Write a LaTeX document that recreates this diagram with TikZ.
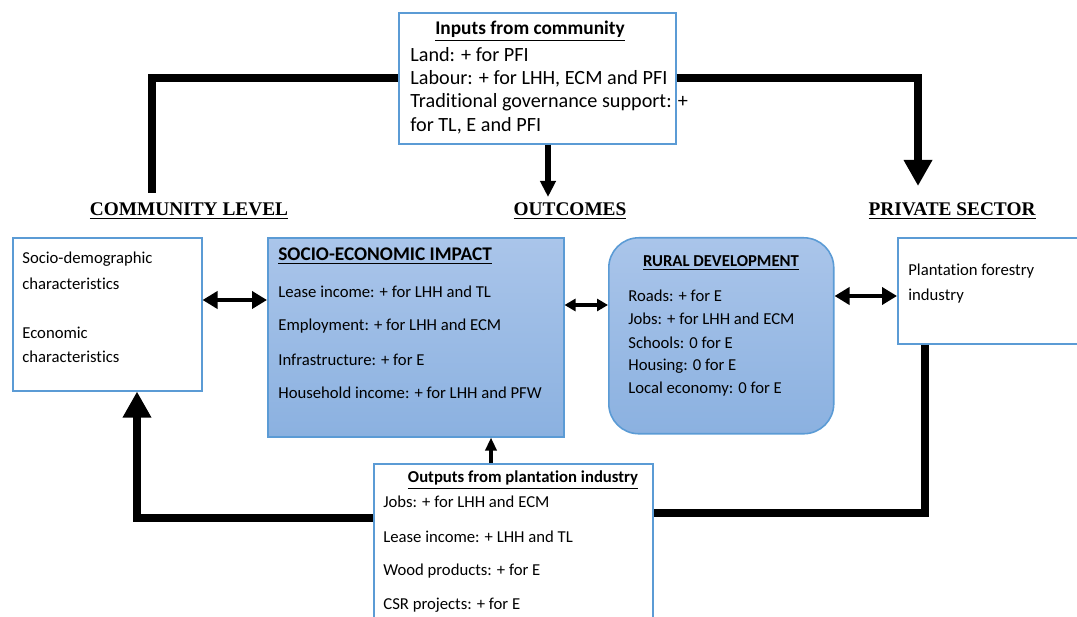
\documentclass[tikz,border=0pt]{standalone}
\usepackage{fontspec}
\setmainfont{Carlito}[RawFeature=-liga]
\newfontfamily\headfont{Liberation Serif}
\usepackage{xcolor}
\usepackage{tikz}
\usetikzlibrary{arrows.meta}

\definecolor{boxblue}{HTML}{5B9BD5}
\definecolor{fillhi}{HTML}{AAC5EA}
\definecolor{filllo}{HTML}{8BB1E0}

\tikzset{
	box/.style = {draw=boxblue, line width=0.9pt, inner sep=0pt, anchor=north west},
	shaded box/.style = {box, top color=fillhi, bottom color=filllo},
	item/.style = {anchor=west, inner sep=0pt, font=\fontsize{9.5}{12}\selectfont},
	big item/.style = {item, font=\fontsize{11.5}{14}\selectfont},
	title/.style = {inner sep=0pt, font=\fontsize{9.5}{12}\selectfont\bfseries},
	big title/.style = {title, font=\fontsize{11}{14}\selectfont\bfseries},
	heading/.style = {inner sep=0pt, font=\fontsize{11}{14}\selectfont\headfont\bfseries},
	conn/.style = {line width=4.5pt},
	bigtip/.style = {-{Triangle[width=0.54cm, length=0.52cm]}},
	dbl/.style = {line width=2.6pt, {Triangle[width=0.34cm, length=0.3cm]}-{Triangle[width=0.34cm, length=0.3cm]}}
}

\begin{document}
\begin{tikzpicture}[x = 0.02cm, y = -0.02cm]
			\useasboundingbox (0,0) rectangle (1077,617);

			% boxes
			\node [box, minimum width=5.54cm, minimum height=2.62cm] (in) at (398,12) {};
			\node [box, minimum width=3.78cm, minimum height=3.06cm] (cb) at (12,237) {};
			\node [shaded box, minimum width=5.92cm, minimum height=3.98cm] (se) at (267,237) {};
			\node [shaded box, rounded corners=0.6cm, minimum width=4.5cm, minimum height=3.92cm] (rd) at (608,237) {};
			\node [box, minimum width=4cm, minimum height=2.12cm] (ps) at (897,237) {};
			\node [box, fill=white, minimum width=5.58cm, minimum height=3.6cm] (op) at (373,463) {};

			% headings
			\node [heading] (hcl) at (189,211) {\underline{COMMUNITY LEVEL}};
			\node [heading] (hoc) at (570,211) {\underline{OUTCOMES}};
			\node [heading] (hps) at (952,211) {\underline{PRIVATE SECTOR}};

			% inputs from community
			\node [big title] (inT) at (530,31) {\underline{Inputs from community}};
			\foreach \t [count=\i] in {Land: + for PFI, {Labour: + for LHH, ECM and PFI}, Traditional governance support: +, {for TL, E and PFI}}
			{
				\node [big item] (in\i) at (410,{31+23.7*\i}) {\t};
			}

			% community level
			\node [item] (cb1) at (22,259) {Socio-demographic};
			\node [item] (cb2) at (22,284) {characteristics};
			\node [item] (cb3) at (22,333) {Economic};
			\node [item] (cb4) at (22,357) {characteristics};

			% socio-economic impact
			\node [big title, anchor=west] (seT) at (278,256) {\underline{SOCIO-ECONOMIC IMPACT}};
			\foreach \t [count=\i] in {Lease income: + for LHH and TL, Employment: + for LHH and ECM, Infrastructure: + for E, Household income: + for LHH and PFW}
			{
				\node [item] (se\i) at (278,{292+33.7*(\i-1)}) {\t};
			}

			% rural development
			\node [title] (rdT) at (721,263) {\underline{RURAL DEVELOPMENT}};
			\foreach \t [count=\i] in {Roads: + for E, Jobs: + for LHH and ECM, Schools: 0 for E, Housing: 0 for E, Local economy: 0 for E}
			{
				\node [item] (rd\i) at (628,{296+23.25*(\i-1)}) {\t};
			}

			% private sector
			\node [item] (ps1) at (908,271) {Plantation forestry};
			\node [item] (ps2) at (908,296) {industry};

			% outputs from plantation industry
			\node [title] (opT) at (523,480) {\underline{Outputs from plantation industry}};
			\foreach \t [count=\i] in {Jobs: + for LHH and ECM, Lease income: + LHH and TL, Wood products: + for E, CSR projects: + for E}
			{
				\node [item] (op\i) at (383,{502+34.3*(\i-1)}) {\t};
			}

			% connectors
			\coordinate (c1) at (152,193);
			\coordinate (c2) at (918,186);
			\coordinate (c3) at (548,197);
			\coordinate (c4) at (925,513);
			\coordinate (c5) at (137,518);
			\coordinate (c6) at (491,300);

			\draw [conn] (in.west) -| (c1);
			\draw [conn, bigtip] (in.east) -| (c2);
			\draw [line width=3pt, -{Triangle[width=0.3cm, length=0.32cm]}] (in.south -| c3) -- (c3);
			\draw [conn] (ps.south -| c4) -- (c4) -- (op.east |- c4);
			\draw [conn, bigtip] (op.west |- c5) -- (c5) -- (cb.south -| c5);
			\draw [line width=2.2pt, -{Triangle[width=0.22cm, length=0.26cm]}] (op.north -| c6) -- (se.south -| c6);

			\draw [dbl] (cb.east |- 0,300) -- (se.west |- 0,300);
			\draw [dbl, line width=1.8pt, {Triangle[width=0.24cm, length=0.22cm]}-{Triangle[width=0.24cm, length=0.22cm]}] (se.east |- 0,305) -- (rd.west |- 0,305);
			\draw [dbl] (rd.east |- 0,296) -- (ps.west |- 0,296);
		\end{tikzpicture}
\end{document}
